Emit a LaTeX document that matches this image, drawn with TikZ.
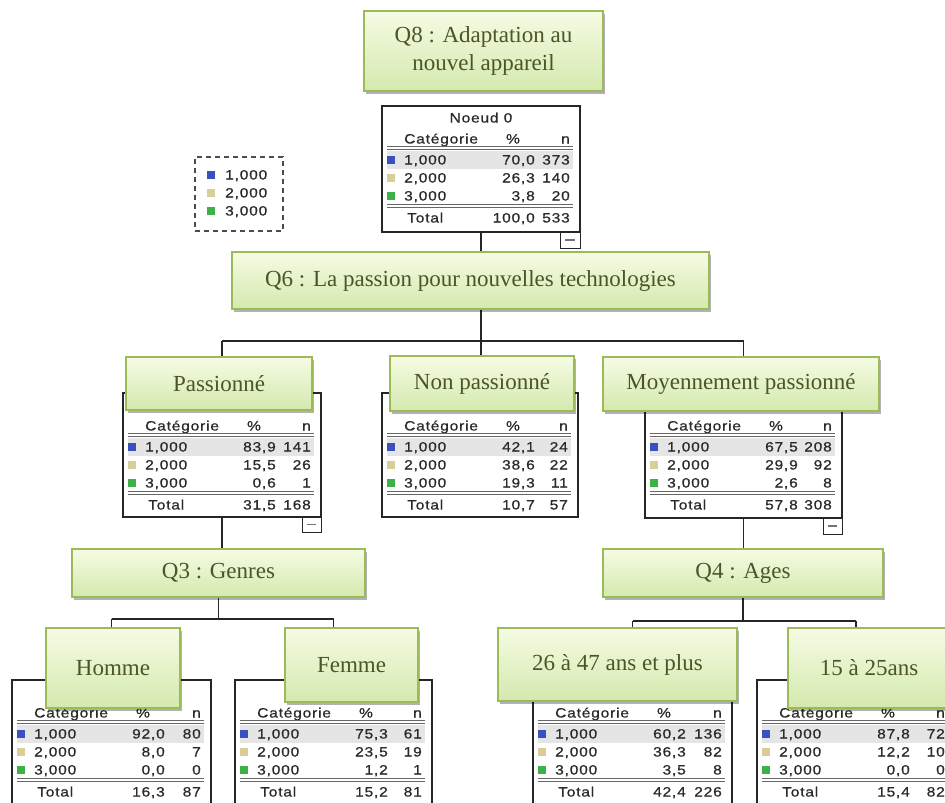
\documentclass[tikz,border=0pt]{standalone}
\usepackage{fontspec}
\setmainfont{Liberation Serif}
\newfontfamily\tabfont[FakeStretch=1.15,LetterSpace=6,FakeBold=0.7]{Liberation Sans}
\usetikzlibrary{shadows,fit}
\definecolor{lbltop}{HTML}{F6FBE4}
\definecolor{lblbot}{HTML}{D4E9AE}
\definecolor{lblborder}{HTML}{9BBB59}
\definecolor{lbltext}{HTML}{4B5526}
\definecolor{cblue}{HTML}{3A4FC0}
\definecolor{cbeige}{HTML}{D8CF98}
\definecolor{cgreen}{HTML}{3DB046}
\definecolor{hlgray}{HTML}{E5E5E5}
\definecolor{tabtext}{HTML}{2A2A2A}
\pgfdeclarelayer{bg}
\pgfdeclarelayer{lines}
\pgfsetlayers{bg,lines,main}
\tikzset{
 labelbox/.style={draw=lblborder, line width=1.3pt, top color=lbltop, bottom color=lblbot,
   text=lbltext, font=\fontsize{23}{28}\selectfont, inner sep=0pt, align=center,
   drop shadow={shadow xshift=2pt, shadow yshift=-3pt, opacity=0.3, fill=black}},
 tframe/.style={draw=black!85, line width=1.2pt, fill=white, inner sep=0pt},
 conn/.style={draw=black!85, line width=1.2pt},
 tt/.style={font=\tabfont\fontsize{13.5}{13.5}\selectfont, text=tabtext, inner sep=0pt},
 trule/.style={draw=black!60, line width=0.9pt},
 togbox/.style={draw=black!85, line width=1pt, fill=white, inner sep=0pt},
 legbox/.style={draw=black!70, dash pattern=on 5pt off 4pt, line width=1.3pt, inner sep=0pt},
}
% label box: name, x1, y1, x2, y2, text
\newcommand\lbl[6]{\node[labelbox, minimum width=#4pt-#2pt, minimum height=#5pt-#3pt] (#1) at ({(#2+#4)/2},{(#3+#5)/2}) {#6};}
% table frame: name, L, T, R, B
\newcommand\mktable[5]{\node[tframe, fit={(#2,#3) (#4,#5)}] (#1) {};}
% table body: L, T, R
\newcommand\tbody[3]{%
 \fill[hlgray] (#1+5,#2+45) rectangle (#3-7,#2+63);
 \node[tt,anchor=base west] at (#1+22,#2+37.5) {Catégorie};
 \node[tt,anchor=base] at (#1+131,#2+37.5) {\%};
 \node[tt,anchor=base east] at (#3-10,#2+37.5) {n};
 \draw[trule] (#1+5,#2+40.5) -- (#3-7,#2+40.5);
 \draw[trule] (#1+5,#2+43) -- (#3-7,#2+43);
 \fill[cblue] (#1+5,#2+50) rectangle (#1+13,#2+58);
 \fill[cbeige] (#1+5,#2+68) rectangle (#1+13,#2+76);
 \fill[cgreen] (#1+5,#2+86) rectangle (#1+13,#2+94);
 \node[tt,anchor=base west] at (#1+22,#2+58.5) {1,000};
 \node[tt,anchor=base west] at (#1+22,#2+76.5) {2,000};
 \node[tt,anchor=base west] at (#1+22,#2+94.5) {3,000};
 \draw[trule] (#1+5,#2+98.5) -- (#3-7,#2+98.5);
 \draw[trule] (#1+5,#2+101) -- (#3-7,#2+101);
 \node[tt,anchor=base west] at (#1+25,#2+116.5) {Total};
}
% values: L, T, R, p1, n1, p2, n2, p3, n3
\newcommand\tvals[9]{%
 \node[tt,anchor=base east] at (#1+153,#2+58.5) {#4};
 \node[tt,anchor=base east] at (#3-10,#2+58.5) {#5};
 \node[tt,anchor=base east] at (#1+153,#2+76.5) {#6};
 \node[tt,anchor=base east] at (#3-10,#2+76.5) {#7};
 \node[tt,anchor=base east] at (#1+153,#2+94.5) {#8};
 \node[tt,anchor=base east] at (#3-10,#2+94.5) {#9};
}
% total: L, T, R, p, n
\newcommand\ttot[5]{%
 \node[tt,anchor=base east] at (#1+153,#2+116.5) {#4};
 \node[tt,anchor=base east] at (#3-10,#2+116.5) {#5};
}
% toggle: name, x1, y1, x2, y2
\newcommand\tog[5]{\node[togbox, fit={(#2,#3) (#4,#5)}] (#1) {};
 \draw[black!55, line width=1.2pt] ({#2+5},{(#3+#5)/2}) -- ({#4-5},{(#3+#5)/2});}
\begin{document}
\begin{tikzpicture}[x=1pt,y=-1pt]
\useasboundingbox (0,0) rectangle (945,803);
\clip (0,0) rectangle (945,803);
\begin{pgfonlayer}{bg}
\fill[white] (0,0) rectangle (945,803);
\end{pgfonlayer}

% ---- legend
\node[legbox, fit={(195,157) (283,231)}] (leg) {};
\fill[cblue] (207,171) rectangle (215,179);
\fill[cbeige] (207,189) rectangle (215,197);
\fill[cgreen] (207,207) rectangle (215,215);
\node[tt,anchor=base west] (leg1) at (225,179.5) {1,000};
\node[tt,anchor=base west] (leg2) at (225,197.5) {2,000};
\node[tt,anchor=base west] (leg3) at (225,215.5) {3,000};

% ---- root
\lbl{q8}{364}{11}{603}{91}{Q8 : Adaptation au\\nouvel appareil}
\mktable{n0}{382}{106}{580}{232}
\node[tt,anchor=base] (n0t) at (481,122.5) {Noeud 0};
\tbody{382}{106}{580}
\tvals{382}{106}{580}{70,0}{373}{26,3}{140}{3,8}{20}
\ttot{382}{106}{580}{100,0}{533}
\tog{g0}{560}{232}{580}{248}
\lbl{q6}{232}{252}{709}{309}{Q6 : La passion pour nouvelles technologies}

% ---- level 1 tables
\mktable{tpas}{123}{393}{321}{517}
\tbody{123}{393}{321}
\tvals{123}{393}{321}{83,9}{141}{15,5}{26}{0,6}{1}
\ttot{123}{393}{321}{31,5}{168}
\tog{g1}{302}{517}{321}{532}

\mktable{tnon}{382}{393}{578}{517}
\tbody{382}{393}{578}
\tvals{382}{393}{578}{42,1}{24}{38,6}{22}{19,3}{11}
\ttot{382}{393}{578}{10,7}{57}

\mktable{tmoy}{645}{393}{842}{518}
\tbody{645}{393}{842}
\tvals{645}{393}{842}{67,5}{208}{29,9}{92}{2,6}{8}
\ttot{645}{393}{842}{57,8}{308}
\tog{g2}{823}{518}{842}{534}

\lbl{lpas}{126}{357}{312}{410}{Passionné}
\lbl{lnon}{390}{356}{574}{411}{Non passionné}
\lbl{lmoy}{603}{357}{879}{411}{Moyennement passionné}

\lbl{q3}{72}{549}{365}{597}{Q3 : Genres}
\lbl{q4}{603}{549}{883}{597}{Q4 : Ages}

% ---- level 2 tables
\mktable{thom}{12}{680}{211}{810}
\tbody{12}{680}{211}
\tvals{12}{680}{211}{92,0}{80}{8,0}{7}{0,0}{0}
\ttot{12}{680}{211}{16,3}{87}

\mktable{tfem}{235}{680}{432}{810}
\tbody{235}{680}{432}
\tvals{235}{680}{432}{75,3}{61}{23,5}{19}{1,2}{1}
\ttot{235}{680}{432}{15,2}{81}

\mktable{t2647}{533}{680}{732}{810}
\tbody{533}{680}{732}
\tvals{533}{680}{732}{60,2}{136}{36,3}{82}{3,5}{8}
\ttot{533}{680}{732}{42,4}{226}

\mktable{t1525}{757}{680}{955}{810}
\tbody{757}{680}{955}
\tvals{757}{680}{955}{87,8}{72}{12,2}{10}{0,0}{0}
\ttot{757}{680}{955}{15,4}{82}

\lbl{lhom}{46}{628}{180}{708}{Homme}
\lbl{lfem}{285}{628}{418}{702}{Femme}
\lbl{l2647}{498}{628}{737}{701}{26 à 47 ans et plus}
\lbl{l1525}{788}{628}{950}{708}{15 à 25ans}

% ---- connectors
\begin{pgfonlayer}{lines}
\draw[conn] (n0.south) -- (n0.south |- q6.north);
\coordinate (j1) at (481,341);
\draw[conn] (j1 |- q6.south) -- (j1);
\draw[conn] (tpas.center |- j1) -- (tmoy.center |- j1);
\draw[conn] (tpas.center |- j1) -- (tpas.center |- lpas.north);
\draw[conn] (j1) -- (j1 |- lnon.north);
\draw[conn] (tmoy.center |- j1) -- (tmoy.center |- lmoy.north);
\draw[conn] (tpas.south) -- (tpas.south |- q3.north);
\coordinate (j3) at (219,619);
\draw[conn] (q3.south) -- (q3.south |- j3);
\draw[conn] (thom.center |- j3) -- (tfem.center |- j3);
\draw[conn] (thom.center |- j3) -- (thom.center |- lhom.north);
\draw[conn] (tfem.center |- j3) -- (tfem.center |- lfem.north);
\draw[conn] (tmoy.south) -- (tmoy.south |- q4.north);
\coordinate (j4) at (743,621);
\draw[conn] (q4.south) -- (q4.south |- j4);
\draw[conn] (t2647.center |- j4) -- (t1525.center |- j4);
\draw[conn] (t2647.center |- j4) -- (t2647.center |- l2647.north);
\draw[conn] (t1525.center |- j4) -- (t1525.center |- l1525.north);
\end{pgfonlayer}
\end{tikzpicture}
\end{document}
